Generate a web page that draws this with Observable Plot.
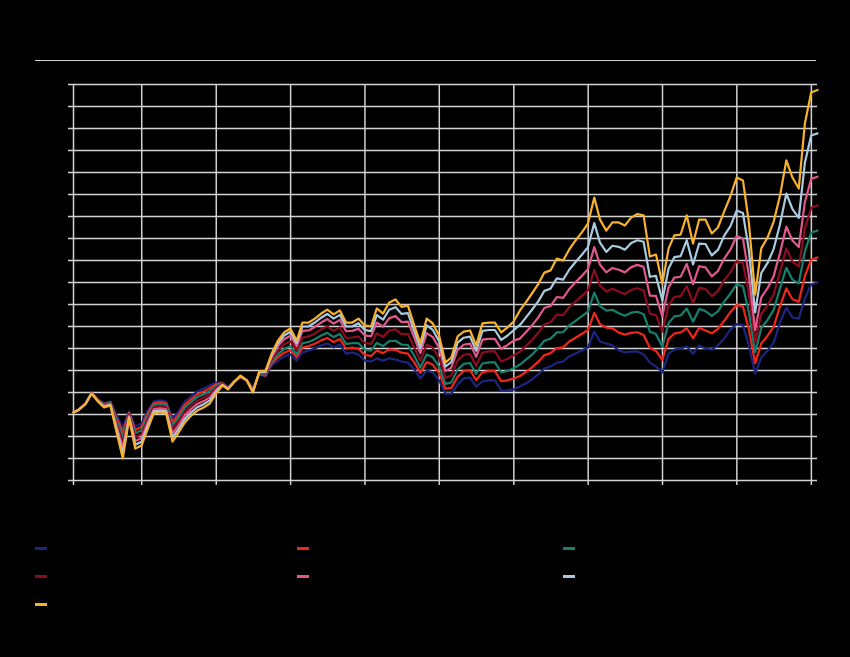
<!DOCTYPE html>
<html><head><meta charset="utf-8">
<script src="https://cdn.jsdelivr.net/npm/d3@7"></script>
<script src="https://cdn.jsdelivr.net/npm/@observablehq/plot@0.6"></script>
<style>
html,body{margin:0;padding:0;background:#000;}
body{width:850px;height:657px;position:relative;overflow:hidden;font-family:"Liberation Sans",Arial,sans-serif;color:#000;}
#title{position:absolute;left:35px;top:14px;font-size:16px;font-weight:bold;color:#000;}
#subtitle{position:absolute;left:35px;top:38px;font-size:12px;color:#000;}
#rule{position:absolute;left:35px;top:60px;width:781px;height:0;border-top:1.5px solid #cfcfcf;}
#chart{position:absolute;left:0;top:0;}
.item{position:absolute;height:16px;font-size:12px;color:#000;display:flex;align-items:center;white-space:nowrap;}
.sw{width:12px;height:3px;margin-right:8px;}
#note{position:absolute;left:35px;top:630px;font-size:10px;color:#000;}
</style>
</head>
<body>
<div id="title">Cumulative performance of model portfolios by risk profile</div>
<div id="subtitle">Index, December 2010 = 100, monthly, total return</div>
<div id="rule"></div>
<div id="chart"></div>
<div id="legend"></div>
<div id="note">Source: portfolio data, month-end values</div>
<script>
// Series names and colours (legend order)
const seriesNames = ["Defensive", "Conservative", "Moderate", "Balanced", "Growth", "Dynamic", "Aggressive"];
const seriesColors = ["#1c2580", "#f2251c", "#17806d", "#8c0c20", "#e2588c", "#a9cbe0", "#f7b12c"];

// Month-end values, January 2011 to January 2021 (121 months)
const startYear = 2011, startMonth = 0;

const defensive = [
100.9,102.3,105.0,110.0,106.8,105.0,105.9,99.5,94.1,101.4,
94.5,95.9,101.8,105.9,106.4,105.9,98.2,101.4,105.9,108.2,
110.5,111.8,113.2,114.5,114.5,112.3,115.0,116.8,115.5,111.8,
118.2,117.3,122.3,124.5,126.4,127.3,124.5,128.2,129.1,130.0,
131.4,132.3,130.5,131.8,127.7,128.2,127.3,124.5,124.1,125.5,
124.5,125.5,125.0,124.1,123.6,120.5,116.4,120.0,119.1,115.5,
109.5,109.5,113.6,116.4,116.8,112.7,115.0,115.5,115.5,110.9,
110.9,111.4,112.7,114.1,115.9,118.2,120.9,121.8,123.6,124.1,
126.4,127.7,129.1,130.5,137.7,133.2,132.3,131.4,129.1,128.2,
128.6,128.6,127.3,123.6,121.8,119.1,127.7,129.5,130.0,130.9,
127.7,131.4,130.0,129.5,131.4,134.5,138.6,141.1,140.5,131.4,
118.6,125.9,129.1,132.7,141.8,148.6,144.1,143.6,152.7,159.1,
160.0];

const conservative = [
100.9,102.3,105.0,109.9,106.7,104.7,105.6,98.3,92.0,100.9,
93.0,94.4,100.6,105.1,105.6,105.1,96.6,100.0,104.5,106.9,
109.2,110.5,112.0,113.8,114.3,112.2,115.0,116.9,115.5,111.5,
118.4,117.7,123.2,126.0,128.1,129.2,126.0,130.4,131.1,132.2,
133.7,134.8,132.9,134.3,130.0,130.4,129.9,127.1,126.6,129.1,
127.9,129.6,129.4,128.1,127.7,123.7,118.9,123.8,122.7,118.8,
111.8,112.1,117.1,119.8,120.2,115.7,119.2,119.7,119.7,115.1,
115.5,116.3,117.5,119.3,121.4,123.9,127.0,127.9,130.2,130.5,
133.2,134.9,136.6,138.4,146.2,141.0,139.5,139.2,137.2,136.3,
137.1,137.4,136.1,130.3,128.9,124.8,134.4,136.8,137.3,139.2,
134.7,139.4,138.2,136.9,138.9,142.6,146.5,149.8,149.1,138.7,
123.3,132.3,135.8,139.9,149.3,157.3,152.4,151.3,163.0,170.4,
171.4];

const moderate = [
100.9,102.3,104.9,109.9,106.5,104.5,105.4,97.2,89.9,100.4,
91.5,92.9,99.3,104.3,104.8,104.3,95.1,98.5,103.1,105.6,
107.9,109.2,110.7,113.0,114.1,112.0,115.0,117.1,115.5,111.3,
118.6,118.1,124.0,127.3,129.8,131.0,127.3,132.4,133.0,134.2,
135.9,137.1,135.2,136.6,132.1,132.4,132.4,129.5,129.0,132.5,
131.1,133.4,133.5,131.8,131.6,126.7,121.3,127.3,126.0,121.8,
113.9,114.6,120.4,123.0,123.4,118.5,123.2,123.7,123.7,119.1,
119.8,121.0,122.7,124.8,127.2,130.1,133.5,134.5,137.3,137.4,
140.5,142.6,144.6,146.8,155.4,149.3,147.2,147.6,146.0,144.9,
146.3,146.7,145.6,137.6,136.6,130.8,141.6,144.6,145.0,148.2,
142.2,148.0,147.0,144.8,146.9,151.3,154.9,159.1,158.3,146.5,
128.3,139.3,143.0,147.6,157.4,166.7,161.3,159.6,174.2,182.7,
183.6];

const balanced = [
100.9,102.3,104.9,109.8,106.4,104.1,105.0,95.8,87.3,99.9,
89.7,91.1,97.9,103.3,103.8,103.3,93.2,96.8,101.3,104.0,
106.3,107.7,109.3,112.1,113.9,111.9,115.0,117.2,115.5,110.9,
118.8,118.6,125.0,129.1,131.9,133.2,129.1,135.0,135.5,136.8,
138.7,140.0,138.0,139.6,134.8,135.0,135.5,132.5,132.1,136.9,
135.2,138.2,138.7,136.5,136.6,130.5,124.4,131.8,130.3,125.7,
116.6,117.7,124.6,127.1,127.5,122.1,128.2,128.7,128.7,124.1,
125.2,126.9,128.6,131.0,133.9,137.0,141.0,141.9,145.4,145.2,
148.8,151.3,153.8,156.4,165.7,158.7,155.9,157.1,155.9,154.7,
156.6,157.4,156.4,145.8,145.2,137.7,149.7,153.4,153.8,158.3,
150.7,157.7,157.0,153.8,156.1,161.1,164.6,169.7,168.8,154.9,
133.0,145.7,149.7,154.7,164.9,175.4,169.5,167.2,184.5,194.0,
195.0];

const growth = [
100.9,102.3,104.9,109.7,106.2,103.8,104.7,94.4,84.8,99.3,
87.9,89.3,96.4,102.3,102.8,102.3,91.3,95.1,99.6,102.5,
104.8,106.1,107.8,111.2,113.6,111.7,115.0,117.4,115.5,110.6,
119.1,119.1,126.2,131.1,134.2,135.8,131.1,138.0,138.2,139.8,
141.8,143.4,141.3,143.0,137.9,138.0,139.0,136.0,135.5,141.8,
139.9,143.8,144.7,142.0,142.2,134.9,127.9,137.0,135.2,130.2,
119.7,121.3,129.4,131.7,132.2,126.2,134.0,134.4,134.4,129.9,
131.5,133.6,134.5,137.3,140.5,144.0,148.4,149.3,153.4,153.0,
157.0,160.1,162.9,166.0,176.1,168.1,164.6,166.6,165.8,164.6,
167.0,168.0,167.1,154.0,153.9,144.6,157.8,162.2,162.6,168.4,
159.2,167.4,166.9,162.8,165.2,170.9,174.9,181.1,180.0,163.3,
138.3,153.2,157.4,163.0,173.5,185.4,179.1,176.1,196.5,207.1,
208.1];

const dynamic = [
100.9,102.3,104.8,109.6,106.1,103.5,104.4,93.1,82.4,98.7,
86.2,87.6,95.0,101.4,101.8,101.4,89.5,93.4,98.0,101.0,
103.3,104.7,106.4,110.4,113.4,111.6,115.0,117.5,115.5,110.3,
119.3,119.5,127.0,132.4,135.9,137.6,132.4,140.0,140.1,141.8,
144.0,145.7,143.6,145.3,140.0,140.0,141.5,138.4,137.9,145.2,
143.1,147.6,148.8,145.7,146.1,137.9,130.2,140.5,138.5,133.3,
121.8,123.8,132.7,134.9,135.4,129.0,138.0,138.4,138.4,133.9,
135.8,138.3,140.7,143.9,147.6,151.3,156.2,157.2,161.9,161.3,
165.8,169.3,172.5,176.1,187.0,178.1,173.9,176.7,176.2,174.9,
177.9,179.2,178.5,162.6,163.0,151.8,166.4,171.5,172.0,179.2,
168.2,177.7,177.5,172.3,174.8,181.3,185.5,192.7,191.6,174.7,
146.4,164.3,168.9,175.3,186.5,200.4,193.4,189.4,214.4,226.8,
227.8];

const aggressive = [
100.9,102.3,104.8,109.5,105.9,103.2,104.1,91.8,80.0,98.2,
84.5,85.9,93.6,100.5,100.9,100.5,87.7,91.8,96.4,99.5,
101.8,103.2,105.0,109.5,113.2,111.4,115.0,117.7,115.5,110.0,
119.5,120.0,127.7,133.6,137.3,139.1,133.6,141.8,141.8,143.6,
145.9,147.7,145.5,147.3,141.8,141.8,143.6,140.5,140.0,148.2,
145.9,150.9,152.3,148.9,149.5,140.5,132.3,143.6,141.4,135.9,
123.6,125.9,135.5,137.7,138.2,131.4,141.4,141.8,141.8,137.3,
139.5,142.3,147.3,150.9,155.0,159.1,164.5,165.5,170.9,170.0,
175.0,179.1,182.7,186.8,198.6,188.6,183.6,187.3,187.3,185.9,
189.5,191.1,190.5,171.8,172.7,159.5,175.5,181.4,181.8,190.5,
177.7,188.6,188.6,182.3,185.0,192.3,199.1,207.7,206.4,187.3,
154.5,175.5,180.5,187.7,199.5,215.5,207.7,202.7,232.3,246.4,
247.5];

// Axis ticks
const yTicks = d3.range(70, 251, 10);
const yearTicks = d3.range(2012, 2022);

const seriesValues = [defensive, conservative, moderate, balanced, growth, dynamic, aggressive];
const monthEnd = i => new Date(Date.UTC(startYear, startMonth + i + 1, 0));
const rows = seriesValues.flatMap((vals, s) =>
  vals.map((v, i) => ({series: seriesNames[s], date: monthEnd(i), value: v})));
const firstDate = monthEnd(0), lastDate = monthEnd(defensive.length - 1);
const xTicks = [firstDate, ...yearTicks.map(y => new Date(Date.UTC(y, 0, 1)))];

const grid = "#d2d2d2";
const chart = Plot.plot({
  width: 850, height: 500,
  marginLeft: 73, marginRight: 33, marginTop: 84, marginBottom: 20,
  style: {background: "transparent", color: "#000", fontFamily: "Liberation Sans, Arial, sans-serif", fontSize: "11px"},
  x: {type: "utc", domain: [firstDate, lastDate]},
  y: {domain: [70, 250]},
  color: {domain: seriesNames, range: seriesColors},
  marks: [
    Plot.gridY(yTicks, {stroke: grid, strokeOpacity: 1, strokeWidth: 1.5}),
    Plot.gridX(xTicks, {stroke: grid, strokeOpacity: 1, strokeWidth: 1.5}),
    Plot.axisY(yTicks, {tickSize: 5, stroke: grid, strokeWidth: 1.5, fill: "#000", label: null, tickPadding: 4}),
    Plot.axisX(xTicks, {tickSize: 5, stroke: grid, strokeWidth: 1.5, fill: "#000", label: null,
      tickFormat: (d, i) => i === 0 ? "" : d3.utcFormat("%Y")(d)}),
    Plot.lineY(rows, {x: "date", y: "value", z: "series", stroke: "series", strokeWidth: 2.2})
  ]
});
document.getElementById("chart").appendChild(chart);

// Legend
const legendPos = [[35,548],[297,548],[563,548],[35,576],[297,576],[563,576],[35,604]];
const lg = document.getElementById("legend");
seriesNames.forEach((name, k) => {
  const it = document.createElement("div");
  it.className = "item";
  it.style.left = legendPos[k][0] + "px";
  it.style.top = (legendPos[k][1] - 8) + "px";
  const sw = document.createElement("span");
  sw.className = "sw";
  sw.style.background = seriesColors[k];
  it.appendChild(sw);
  const tx = document.createElement("span");
  tx.textContent = name;
  it.appendChild(tx);
  lg.appendChild(it);
});
</script>
</body></html>
